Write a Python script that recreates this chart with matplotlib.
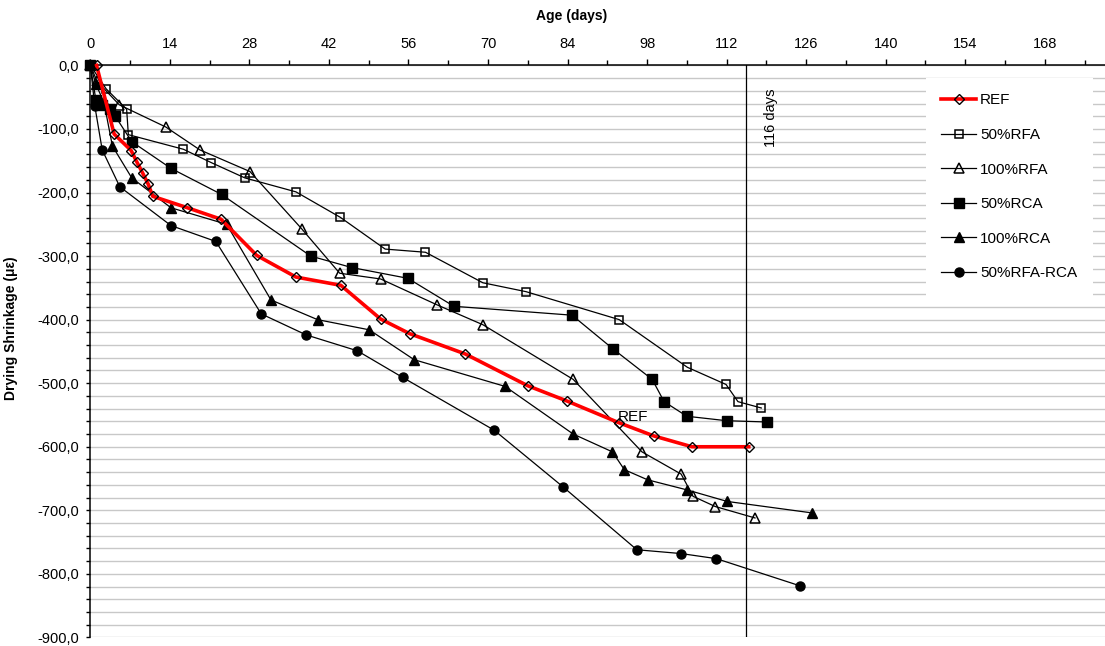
import matplotlib
matplotlib.use("Agg")
import matplotlib.pyplot as plt
from matplotlib.ticker import MultipleLocator, FuncFormatter

plt.rcParams["font.family"] = ["Liberation Sans", "DejaVu Sans"]

# Age (days) and drying shrinkage (microstrain)
ref_days = [1.1, 4.2, 7.2, 8.2, 9.2, 10.2, 11.0, 17.1, 23.0, 29.3, 36.2, 44.1,
            51.1, 56.2, 66.0, 77.0, 83.9, 93.0, 99.2, 105.9, 115.9]
ref_vals = [0, -108, -134, -152, -169, -187, -206, -224, -242, -299, -333, -346,
            -399, -422, -454, -504, -528, -562, -583, -600, -600]

rfa50_days = [0, 2.8, 6.4, 6.7, 16.4, 21.3, 27.2, 36.2, 44.0, 51.9, 59.0, 69.1,
              76.7, 93.1, 105.1, 111.9, 114.0, 118.1]
rfa50_vals = [0, -37, -69, -109, -132, -153, -177, -199, -239, -289, -294, -342,
              -356, -400, -475, -502, -529, -539]

rfa100_days = [0, 1.2, 5.1, 13.3, 19.3, 28.1, 37.2, 43.9, 51.1, 61.1, 69.1, 85.0,
               97.1, 104.0, 106.1, 110.0, 117.0]
rfa100_vals = [0, -25, -62, -97, -133, -167, -257, -327, -336, -377, -408, -494,
               -608, -643, -678, -694, -712]

rca50_days = [0, 1.0, 2.0, 3.4, 4.4, 7.3, 14.2, 23.1, 38.8, 46.0, 55.9, 64.0,
              84.8, 92.0, 98.9, 101.0, 105.0, 112.0, 119.1]
rca50_vals = [0, -55, -62, -69, -80, -120, -162, -203, -300, -318, -335, -379,
              -393, -446, -494, -529, -552, -559, -561]

rca100_days = [0, 1.0, 2.4, 3.9, 7.3, 14.2, 24.0, 31.8, 40.0, 49.1, 57.0, 73.0,
               85.0, 91.9, 94.0, 98.1, 105.1, 112.1, 127.0]
rca100_vals = [0, -30, -58, -127, -177, -224, -250, -369, -400, -416, -463, -505,
               -580, -608, -636, -652, -668, -686, -704]

mix_days = [0, 0.8, 2.1, 5.2, 14.2, 22.1, 30.1, 38.0, 47.0, 55.0, 71.1, 83.2,
            96.2, 104.0, 110.2, 125.0]
mix_vals = [0, -64, -133, -191, -252, -277, -391, -424, -449, -491, -574, -663,
            -762, -768, -776, -819]

marker_day = 115.5

fig = plt.figure(figsize=(11.05, 6.46), dpi=100)
ax = fig.add_axes([0.0817, 0.0132, 0.9183, 0.8856])

blk = dict(color="black", lw=0.9, clip_on=False, zorder=3)
ax.plot(rfa50_days, rfa50_vals, marker="s", ms=6, mfc="none", mec="black",
        mew=1.1, label="50%RFA", **blk)
ax.plot(rfa100_days, rfa100_vals, marker="^", ms=6.5, mfc="none", mec="black",
        mew=1.1, label="100%RFA", **blk)
ax.plot(rca50_days, rca50_vals, marker="s", ms=6.5, mfc="black", mec="black",
        label="50%RCA", **blk)
ax.plot(rca100_days, rca100_vals, marker="^", ms=7, mfc="black", mec="black",
        label="100%RCA", **blk)
ax.plot(mix_days, mix_vals, marker="o", ms=6.5, mfc="black", mec="black",
        label="50%RFA-RCA", **blk)
ax.plot(ref_days, ref_vals, color="red", lw=2.6, marker="D", ms=5, mfc="none",
        mec="black", mew=1.0, clip_on=False, zorder=4, label="REF")

ax.axvline(marker_day, color="black", lw=0.9, zorder=2)
ax.text(marker_day + 4.4, -36, "116 days", rotation=90, ha="center", va="top",
        fontsize=10.5)
ax.text(92.9, -553, "REF", ha="left", va="center", fontsize=11, zorder=5)

ax.set_xlim(0, 178.6)
ax.set_ylim(-900, 0)
ax.xaxis.tick_top()
ax.xaxis.set_label_position("top")
ax.xaxis.set_major_locator(MultipleLocator(14))
ax.xaxis.set_minor_locator(MultipleLocator(7))
ax.yaxis.set_major_locator(MultipleLocator(100))
ax.yaxis.set_minor_locator(MultipleLocator(20))
ax.yaxis.set_major_formatter(FuncFormatter(lambda v, p: f"{v:.1f}".replace(".", ",")))
ax.tick_params(axis="x", which="major", length=4.5, width=1, pad=6, labelsize=10.5)
ax.tick_params(axis="x", which="minor", length=3.5, width=1)
ax.tick_params(axis="y", which="both", length=3, width=1, pad=5, labelsize=10.5)
ax.grid(axis="y", which="both", color="#c8c8c8", lw=1.0, zorder=0)
ax.set_axisbelow(True)
for side in ["right", "bottom"]:
    ax.spines[side].set_visible(False)
for side in ["left", "top"]:
    ax.spines[side].set_linewidth(1.1)

ax.set_xlabel("Age (days)", fontsize=10, fontweight="bold")
ax.xaxis.set_label_coords(0.4747, 1.08)
ax.set_ylabel("Drying Shrinkage (με)", fontsize=10, fontweight="bold")
ax.yaxis.set_label_coords(-0.071, 0.54)

handles, labels = ax.get_legend_handles_labels()
order = [5, 0, 1, 2, 3, 4]
leg = fig.legend([handles[i] for i in order], [labels[i] for i in order],
                 loc="upper left", bbox_to_anchor=(926 / 1105, 1 - 78 / 646),
                 frameon=True, fancybox=False, edgecolor="white",
                 facecolor="white", framealpha=1, fontsize=11,
                 labelspacing=1.35, handlelength=2.3, handletextpad=0.25,
                 borderpad=1.0, borderaxespad=0)
leg.get_frame().set_linewidth(0)

fig.savefig("out.png", dpi=100)
